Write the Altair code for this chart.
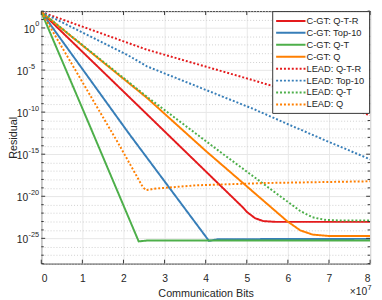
import altair as alt
import pandas as pd

# ---- data (x in units of 1e7 communication bits, y as log10(residual)) ----
series_names = ["C-GT: Q-T-R", "C-GT: Top-10", "C-GT: Q-T", "C-GT: Q",
                "LEAD: Q-T-R", "LEAD: Top-10", "LEAD: Q-T", "LEAD: Q"]
series_colors = ["#e41a1c", "#377eb8", "#4daf4a", "#ff7f00",
                 "#e41a1c", "#377eb8", "#4daf4a", "#ff7f00"]
series_dashes = [[1, 0], [1, 0], [1, 0], [1, 0], [2, 2], [2, 2], [2, 2], [2, 2]]

cgt_qtr_x = [0, 2.57, 4.9, 5.0, 5.2, 5.4, 5.7, 8]
cgt_qtr_y = [1.9, -10.25, -21.3, -21.85, -22.6, -22.95, -23.04, -23.04]

cgt_top_x = [0, 2.13, 4.08, 4.3, 8]
cgt_top_y = [1.9, -12.53, -25.3, -25.1, -25.06]

cgt_qt_x = [0, 1.16, 2.37, 2.6, 8]
cgt_qt_y = [1.9, -11.39, -25.36, -25.25, -25.25]

cgt_q_x = [0, 2.57, 4.0, 5.98, 6.3, 6.6, 7.0, 8]
cgt_q_y = [1.9, -8.3, -14.6, -22.95, -24.05, -24.55, -24.72, -24.72]

lead_qtr_x = [0, 2.57, 5.19, 8]
lead_qtr_y = [1.9, -2.58, -6.26, -10.36]

lead_top_x = [0, 2.1, 2.57, 5.19, 5.98, 7.02, 8]
lead_top_y = [1.9, -3.22, -4.56, -9.68, -11.39, -13.59, -15.6]

lead_qt_x = [0, 2.57, 4.4, 6.3, 6.6, 6.9, 7.3, 8]
lead_qt_y = [1.9, -8.17, -14.9, -21.75, -22.5, -22.8, -22.89, -22.89]

lead_q_x = [0, 1.87, 2.47, 2.55, 2.75, 3.76, 5.5, 8]
lead_q_y = [1.9, -13.67, -18.9, -19.28, -19.1, -18.7, -18.42, -18.22]

all_x = [cgt_qtr_x, cgt_top_x, cgt_qt_x, cgt_q_x, lead_qtr_x, lead_top_x, lead_qt_x, lead_q_x]
all_y = [cgt_qtr_y, cgt_top_y, cgt_qt_y, cgt_q_y, lead_qtr_y, lead_top_y, lead_qt_y, lead_q_y]

x_ticks = [0, 1, 2, 3, 4, 5, 6, 7, 8]
y_major_exp = [0, -5, -10, -15, -20, -25]
y_all_exp = list(range(-28, 3))
y_minor_exp = [e for e in y_all_exp if e not in y_major_exp]

rows = []
for name, xs, ys in zip(series_names, all_x, all_y):
    for i, (xv, yv) in enumerate(zip(xs, ys)):
        rows.append({"series": name, "x": xv, "y": 10.0 ** yv, "i": i})
df = pd.DataFrame(rows)

W, H = 336, 258
FONT = "Liberation Sans"
TXT = "#262626"

xscale = alt.Scale(domain=[0, 8], nice=False, zero=False)
yscale = alt.Scale(type="log", domain=[1e-28, 1e2], nice=False)

major_test = "round(log(datum.value)/LN10) % 5 == 0"

x_axis = alt.Axis(values=x_ticks, title="Communication Bits", grid=True,
                  gridColor="#e8e8e8", gridWidth=1, ticks=False, domain=False,
                  labelPadding=10, titlePadding=4, format="d")
y_axis = alt.Axis(values=[10.0 ** e for e in y_all_exp], title="Residual",
                  labels=False, grid=True,
                  gridColor={"condition": {"test": major_test, "value": "#e6e6e6"},
                             "value": "#cfcfcf"},
                  gridDash={"condition": {"test": major_test, "value": []},
                            "value": [1, 2]},
                  ticks=False, domain=False,
                  titleX=-25.5, titleY=H / 2, titleAngle=270, titleAlign="center",
                  titleBaseline="alphabetic")

legend = alt.Legend(title=None, orient="none", legendX=W - 100, legendY=0)

lines = alt.Chart(df).mark_line(strokeWidth=2, clip=True).encode(
    x=alt.X("x:Q", scale=xscale, axis=x_axis),
    y=alt.Y("y:Q", scale=yscale, axis=y_axis),
    color=alt.Color("series:N", scale=alt.Scale(domain=series_names, range=series_colors),
                    legend=legend),
    strokeDash=alt.StrokeDash("series:N", scale=alt.Scale(domain=series_names, range=series_dashes),
                              legend=legend),
    order="i:Q",
)

tick_col = "#333333"
ymaj = pd.DataFrame({"y": [10.0 ** e for e in y_major_exp]})
ymin = pd.DataFrame({"y": [10.0 ** e for e in y_minor_exp]})
xt = pd.DataFrame({"x": x_ticks})

def yticks(d, length, side):
    if side == "left":
        xa, xb = alt.value(0), alt.value(length)
    else:
        xa, xb = alt.value(W - length), alt.value(W)
    return alt.Chart(d).mark_rule(color=tick_col, strokeWidth=1).encode(
        y=alt.Y("y:Q", scale=yscale, axis=y_axis), x=xa, x2=xb)

def xticks(d, length, side):
    if side == "bottom":
        ya, yb = alt.value(H - length), alt.value(H)
    else:
        ya, yb = alt.value(0), alt.value(length)
    return alt.Chart(d).mark_rule(color=tick_col, strokeWidth=1).encode(
        x=alt.X("x:Q", scale=xscale, axis=x_axis), y=ya, y2=yb)

# y tick labels: "10" with a superscript exponent
lab_df = pd.DataFrame({"y": [10.0 ** e for e in y_major_exp],
                       "e": y_major_exp,
                       "exp": [str(e) for e in y_major_exp]})

def ylabel_layer(filter_expr, x_left):
    base = alt.Chart(lab_df).transform_filter(filter_expr)
    ten = base.mark_text(align="left", baseline="middle", font=FONT, fontSize=10.5,
                         color=TXT, dy=2).encode(
        y=alt.Y("y:Q", scale=yscale, axis=y_axis), x=alt.value(x_left),
        text=alt.value("10"))
    sup = base.mark_text(align="left", baseline="middle", font=FONT, fontSize=7.5,
                         color=TXT, dy=-3.5).encode(
        y=alt.Y("y:Q", scale=yscale, axis=y_axis), x=alt.value(x_left + 11.9),
        text="exp:N")
    return [ten, sup]

ylabels = ylabel_layer("datum.e == 0", -18) + ylabel_layer("datum.e != 0", -25)

note = pd.DataFrame({"t": ["×10"], "s": ["7"]})
exp_text = alt.Chart(note).mark_text(
    align="right", baseline="alphabetic", font=FONT, fontSize=10.5, color=TXT
).encode(text="t:N", x=alt.value(W - 3), y=alt.value(H + 32))
exp_sup = alt.Chart(note).mark_text(
    align="left", baseline="alphabetic", font=FONT, fontSize=7.5, color=TXT
).encode(text="s:N", x=alt.value(W - 2.6), y=alt.value(H + 27))

chart = alt.layer(
    lines,
    yticks(ymaj, 4, "left"), yticks(ymin, 2.5, "left"),
    yticks(ymaj, 4, "right"), yticks(ymin, 2.5, "right"),
    xticks(xt, 4, "bottom"), xticks(xt, 4, "top"),
    *ylabels, exp_text, exp_sup,
).properties(
    width=W, height=H,
    autosize=alt.AutoSizeParams(type="none"),
    padding={"left": 34, "top": 0, "right": 4, "bottom": 34},
).configure_view(
    stroke="#333333", strokeWidth=1
).configure_axis(
    labelFont=FONT, titleFont=FONT, labelFontSize=10.5, titleFontSize=11,
    labelColor=TXT, titleColor=TXT, titleFontWeight="normal"
).configure_legend(
    padding=4, strokeColor="#333333", fillColor="white",
    cornerRadius=0, labelFont=FONT, labelFontSize=9.5, labelColor=TXT,
    symbolType="M-1.2,0H4.8", symbolSize=100, symbolStrokeWidth=2, labelOffset=19,
    rowPadding=1.2, columnPadding=0, labelLimit=200
)

chart.save("out.html", embed_options={"renderer": "svg", "actions": False})
